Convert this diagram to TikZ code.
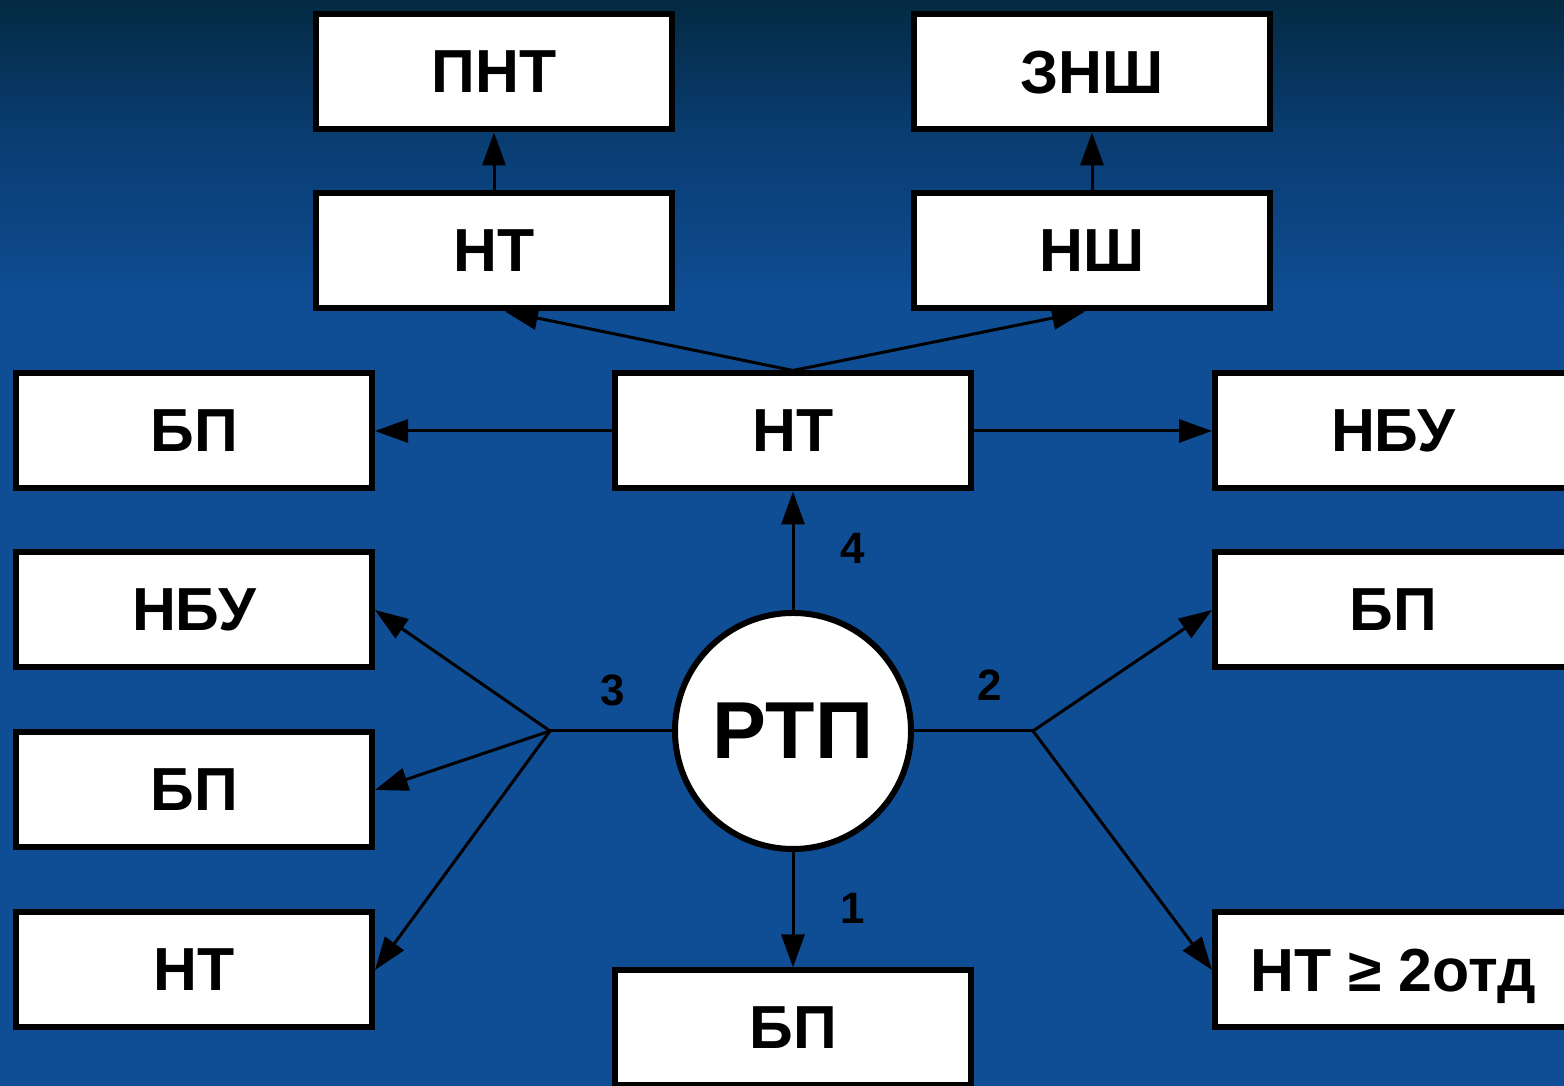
\documentclass[tikz,border=0pt]{standalone}
\usepackage{fontspec}
\setmainfont{Liberation Sans}
\usetikzlibrary{arrows.meta}
\definecolor{seaT}{RGB}{4,42,66}
\definecolor{seaM}{RGB}{9,60,112}
\definecolor{seaB}{RGB}{15,77,148}
\pgfdeclareverticalshading{ocean}{100bp}{color(0bp)=(seaB); color(61bp)=(seaB); color(69bp)=(seaM); color(75bp)=(seaT); color(100bp)=(seaT)}
\begin{document}
\begin{tikzpicture}[
box/.style={draw=black, line width=0.06cm, fill=white, minimum width=3.56cm, minimum height=1.15cm, inner sep=0pt, text depth=0pt, font=\fontsize{17.3}{20}\selectfont\bfseries},
hub/.style={circle, draw=black, line width=0.06cm, fill=white, minimum size=2.36cm, inner sep=0pt, font=\fontsize{23}{26}\selectfont\bfseries},
num/.style={font=\fontsize{12.5}{14}\selectfont\bfseries},
wire/.style={draw=black, line width=0.03cm},
link/.style={wire, -{Triangle[length=0.33cm,width=0.23cm]}}]
\useasboundingbox (0,0) rectangle (15.64,10.86);
\shade[shading=ocean] (0,0) rectangle (15.64,10.86);
\node[box] (pnt) at (4.94,10.14) {ПНТ};
\node[box] (znsh) at (10.92,10.14) {ЗНШ};
\node[box] (ntl) at (4.94,8.35) {НТ};
\node[box] (nsh) at (10.92,8.35) {НШ};
\node[box] (bpa) at (1.94,6.55) {БП};
\node[box] (nt) at (7.93,6.55) {НТ};
\node[box] (nbur) at (13.93,6.55) {НБУ};
\node[box] (nbul) at (1.94,4.76) {НБУ};
\node[box] (bpr) at (13.93,4.76) {БП};
\node[box] (bpb) at (1.94,2.96) {БП};
\node[box] (ntb) at (1.94,1.16) {НТ};
\node[box] (ntr) at (13.93,1.16) {НТ ≥ 2отд};
\node[box] (bpd) at (7.93,0.58) {БП};
\node[hub] (rtp) at (7.93,3.55) {РТП};
\coordinate (jl) at (5.50,3.55);
\coordinate (jr) at (10.33,3.55);
\draw[link] (ntl) -- (pnt);
\draw[link] (nsh) -- (znsh);
\draw[link] (nt.north) -- ([xshift=0.11cm]ntl.south);
\draw[link] (nt.north) -- ([xshift=-0.07cm]nsh.south);
\draw[link] (nt) -- (bpa);
\draw[link] (nt) -- (nbur);
\draw[link] (rtp) -- (nt);
\draw[link] (rtp) -- (bpd);
\draw[wire] (rtp) -- (jl);
\draw[link] (jl) -- (nbul.east);
\draw[link] (jl) -- (bpb.east);
\draw[link] (jl) -- (ntb.east);
\draw[wire] (rtp) -- (jr);
\draw[link] (jr) -- (bpr.west);
\draw[link] (jr) -- (ntr.west);
\node[num] (n4) at (8.53,5.38) {4};
\node[num] (n1) at (8.53,1.78) {1};
\node[num] (n3) at (6.13,3.96) {3};
\node[num] (n2) at (9.90,4.01) {2};
\end{tikzpicture}
\end{document}
